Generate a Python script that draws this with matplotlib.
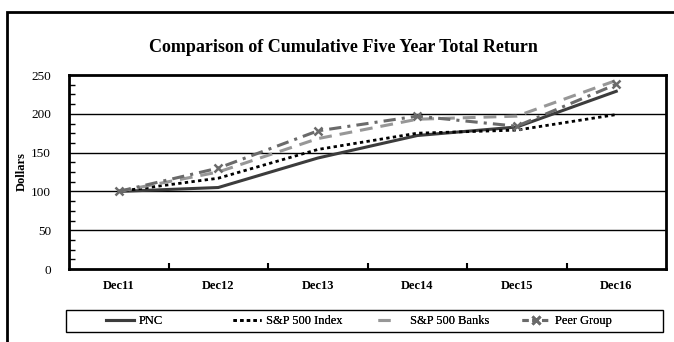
import matplotlib
matplotlib.use("Agg")
import matplotlib.pyplot as plt
from matplotlib.lines import Line2D
from matplotlib.patches import Rectangle
import numpy as np

categories = ["Dec11", "Dec12", "Dec13", "Dec14", "Dec15", "Dec16"]
pnc = [100, 105, 143, 172, 183, 229]
sp500 = [100, 117, 154, 175, 179, 199]
sp_banks = [100, 125, 168, 193, 197, 243]
peer = [100, 130, 178, 197, 184, 238]
series_names = ['PNC', 'S&P 500 Index', 'S&P 500 Banks', 'Peer Group']

plt.rcParams['font.family'] = ['Liberation Serif', 'DejaVu Serif']

W, H = 674, 342
fig = plt.figure(figsize=(6.74, 3.42), dpi=100)
fig.patch.set_facecolor('white')

# outer frame
fig.add_artist(Rectangle((7/W, -0.1), 1.0, 1 - 12/H + 0.1, transform=fig.transFigure,
                         fill=False, edgecolor='black', linewidth=2.0))

ax = fig.add_axes([69/W, (H-269)/H, (666-69)/W, (269-75)/H])
x = np.arange(len(categories))

styles = [
    dict(color='#3c3c3c', lw=2.2),
    dict(color='black', lw=2.0, ls=(0, (1.2, 1.2))),
    dict(color='#979797', lw=2.2, ls=(0, (4.2, 2.6))),
    dict(color='#6a6a6a', lw=2.2, ls=(0, (4, 2, 1, 2))),
]
ax.plot(x, pnc, **styles[0])
ax.plot(x, sp500, **styles[1])
ax.plot(x, sp_banks, **styles[2])
ax.plot(x, peer, marker='x', markersize=6, markeredgewidth=1.8, **styles[3])

ax.set_xlim(-0.5, 5.5)
ax.set_ylim(0, 250)
ax.set_yticks([0, 50, 100, 150, 200, 250])
ax.set_yticks(np.arange(0, 251, 12.5), minor=True)
ax.set_xticks(np.arange(0.5, 5.0, 1.0))
ax.set_xticklabels([])
ax.set_xticks(x, minor=True)
ax.set_xticklabels(categories, minor=True, fontweight='bold', fontsize=9)
ax.tick_params(axis='x', which='minor', length=0, pad=8)
ax.tick_params(axis='x', which='major', direction='in', length=4, width=1.5)
ax.tick_params(axis='y', which='major', direction='in', length=0, labelsize=9.5, pad=13)
ax.tick_params(axis='y', which='minor', direction='in', length=4, width=1)
for yv in [50, 100, 150, 200]:
    ax.axhline(yv, color='black', lw=1.0, zorder=0)
for s in ax.spines.values():
    s.set_linewidth(2.0)
ax.set_ylabel('Dollars', fontweight='bold', fontsize=9, labelpad=2)

fig.text(343/W, 1 - 47/H, 'Comparison of Cumulative Five Year Total Return',
         ha='center', va='center', fontweight='bold', fontsize=13)

# legend frame
fig.add_artist(Rectangle((66/W, 1 - 332/H), (663-66)/W, 22/H, transform=fig.transFigure,
                         fill=False, edgecolor='black', linewidth=1.0))
handles = [
    Line2D([], [], **styles[0]),
    Line2D([], [], **styles[1]),
    Line2D([], [], color='#979797', lw=2.2, ls=(7.86, (3.93, 6.55))),
    Line2D([], [], color='#6a6a6a', lw=2.2, ls=(0, (2, 1.2)), marker='x',
           markersize=5.5, markeredgewidth=2.0),
]
starts = [106, 233, 370, 522]
pads = [0.45, 0.45, 1.0, 0.45]
for h, lab, sx, tp in zip(handles, series_names, starts, pads):
    lg = fig.legend([h], [lab], loc='center left', bbox_to_anchor=(sx/W, 1 - 321/H),
                    fontsize=9, frameon=False, handlelength=2.2, handletextpad=tp,
                    borderpad=0, borderaxespad=0)
    fig.add_artist(lg)

fig.savefig('out.png', dpi=100)
